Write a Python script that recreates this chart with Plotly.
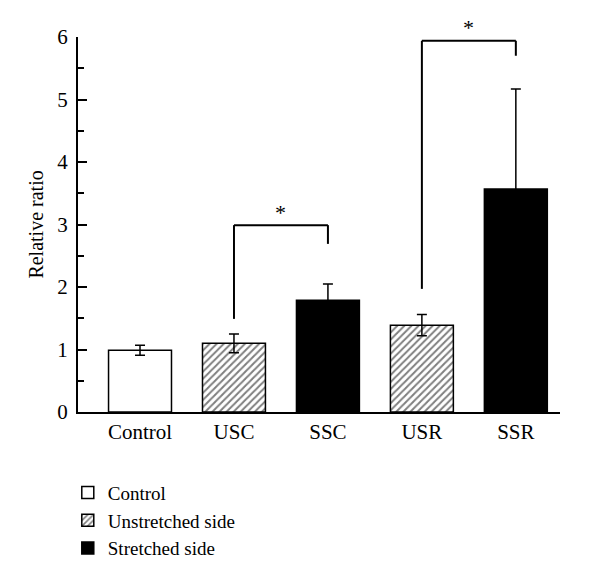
import plotly.graph_objects as go

# data
categories = ["Control", "USC", "SSC", "USR", "SSR"]
values = [0.99, 1.10, 1.79, 1.39, 3.57]
errors = [0.08, 0.15, 0.26, 0.17, 1.60]
groups = ["Control", "Unstretched side", "Stretched side", "Unstretched side", "Stretched side"]

# significance brackets: (left cat, right cat, top, left bottom, right bottom)
brackets = [("USC", "SSC", 2.99, 1.49, 2.69), ("USR", "SSR", 5.94, 1.97, 5.70)]

font_name = "Liberation Serif"

styles = {
    "Control": dict(color="white", line=dict(color="black", width=1.5)),
    "Unstretched side": dict(color="white", line=dict(color="black", width=1.5),
                             pattern=dict(shape="/", fgcolor="black", bgcolor="white",
                                          size=5, solidity=0.4)),
    "Stretched side": dict(color="black", line=dict(color="black", width=1.5)),
}

fig = go.Figure()
for g in ["Control", "Unstretched side", "Stretched side"]:
    xs = [c for c, gg in zip(categories, groups) if gg == g]
    ys = [v for v, gg in zip(values, groups) if gg == g]
    es = [e for e, gg in zip(errors, groups) if gg == g]
    fig.add_trace(go.Bar(
        x=xs, y=ys, name=g, width=0.67,
        marker=styles[g],
        error_y=dict(type="data", array=es, color="black", thickness=1.5, width=5),
    ))

for left, right, top, lb, rb in brackets:
    fig.add_shape(type="line", x0=left, x1=left, y0=lb, y1=top, line=dict(color="black", width=2))
    fig.add_shape(type="line", x0=left, x1=right, y0=top, y1=top, line=dict(color="black", width=2))
    fig.add_shape(type="line", x0=right, x1=right, y0=top, y1=rb, line=dict(color="black", width=2))
    li = categories.index(left)
    ri = categories.index(right)
    fig.add_annotation(x=(li + ri) / 2, y=top, text="*", showarrow=False,
                       yshift=13, font=dict(size=22, color="black"))

# y axis title as annotation (axis title misplaces when margins are fixed)
fig.add_annotation(xref="paper", yref="paper", x=-0.089, y=0.5, text="Relative ratio",
                   textangle=-90, showarrow=False, xanchor="center", yanchor="middle",
                   font=dict(size=20, color="black"))

# page body has an 8px margin, so the canvas is a bit smaller than the window
fig.update_layout(
    width=592, height=569,
    margin=dict(l=70, r=40, t=29, b=165, autoexpand=False),
    plot_bgcolor="white", paper_bgcolor="white",
    barmode="overlay",
    font=dict(family=font_name, size=21, color="black"),
    showlegend=True,
    legend=dict(xref="container", yref="container", x=0.101, y=0.1815,
                xanchor="left", yanchor="top",
                font=dict(size=19), tracegroupgap=0, itemwidth=30,
                bgcolor="rgba(0,0,0,0)"),
)
fig.update_xaxes(
    categoryorder="array", categoryarray=categories,
    range=[-0.66, 4.47], showline=True, linecolor="black", linewidth=2,
    ticks="", showgrid=False, zeroline=False, automargin=False,
)
fig.update_yaxes(
    range=[0, 6], dtick=1, showline=True, linecolor="black", linewidth=2,
    ticks="inside", ticklen=9, tickwidth=2, tickcolor="black", ticklabelstandoff=4,
    minor=dict(dtick=0.5, ticks="inside", ticklen=6, tickwidth=2, tickcolor="black"),
    showgrid=False, zeroline=False, automargin=False,
)

fig.write_html("out.html")
